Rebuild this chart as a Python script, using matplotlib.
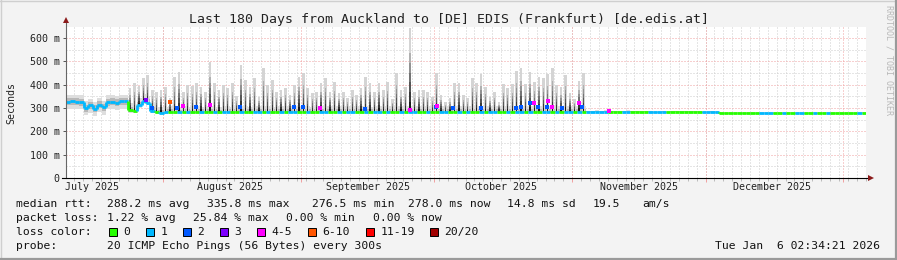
import matplotlib
matplotlib.use('Agg')
import matplotlib.pyplot as plt
import matplotlib.dates as mdates
from matplotlib.collections import LineCollection
from matplotlib.patches import Rectangle
from matplotlib.lines import Line2D
import numpy as np
import pandas as pd

W, H = 897, 260
MONO = 'DejaVu Sans Mono'

start = pd.Timestamp('2025-07-10 02:34:21')
end = pd.Timestamp('2026-01-06 02:34:21')

# daily median rtt (ms), day 0 = start
median_ms = [
    327, 328, 327, 326, 300, 312, 297, 314, 304, 326,
    327, 323, 328, 329, 290, 287, 312, 328, 322, 289,
    281, 280, 282, 283, 282, 281, 283, 282, 281, 283,
    282, 284, 283, 282, 281, 283, 284, 282, 283, 284,
    283, 282, 284, 283, 285, 283, 282, 284, 283, 285,
    284, 283, 285, 284, 283, 282, 284, 285, 283, 284,
    283, 285, 284, 283, 284, 285, 283, 284, 282, 284,
    285, 283, 284, 283, 285, 284, 283, 285, 284, 283,
    284, 285, 283, 284, 285, 283, 284, 283, 285, 284,
    283, 284, 285, 283, 284, 283, 285, 284, 283, 284,
    283, 285, 284, 283, 285, 284, 283, 285, 284, 283,
    284, 283, 285, 284, 283, 284, 285, 284, 284, 285,
    284, 285, 284, 284, 283, 284, 285, 284, 284, 283,
    284, 283, 282, 282, 283, 282, 283, 284, 283, 284,
    284, 283, 284, 282, 282, 283, 282, 278, 277, 277,
    277, 278, 277, 277, 278, 277, 277, 278, 277, 277,
    278, 277, 277, 278, 277, 278, 277, 277, 278, 277,
    277, 278, 277, 277, 278, 277, 278, 277, 277, 278,
]

# daily packet loss (pings lost out of 20)
loss_cnt = [
    1, 1, 1, 1, 1, 1, 1, 1, 1, 1,
    1, 1, 1, 1, 0, 0, 1, 1, 1, 1,
    0, 1, 1, 0, 0, 1, 0, 1, 0, 0,
    1, 0, 0, 1, 0, 1, 1, 0, 0, 1,
    0, 0, 1, 1, 0, 1, 0, 0, 1, 0,
    1, 1, 0, 0, 1, 0, 0, 1, 1, 0,
    0, 1, 0, 1, 1, 0, 0, 1, 0, 1,
    1, 0, 1, 0, 0, 1, 0, 1, 1, 0,
    0, 1, 0, 0, 1, 1, 0, 0, 1, 0,
    1, 0, 0, 1, 0, 1, 1, 0, 0, 1,
    0, 1, 1, 0, 1, 0, 0, 1, 1, 0,
    1, 0, 1, 1, 0, 1, 0, 1, 1, 1,
    1, 1, 0, 0, 0, 1, 1, 0, 0, 0,
    0, 1, 1, 1, 1, 0, 0, 0, 0, 0,
    0, 0, 0, 1, 1, 1, 1, 0, 0, 0,
    0, 0, 0, 0, 0, 0, 1, 1, 1, 0,
    0, 1, 0, 0, 1, 1, 0, 0, 1, 0,
    0, 1, 0, 0, 0, 0, 0, 0, 1, 0,
]

# slowest ping per day (ms), from day 14 to day 116
spike_first_day = 14
spike_max_ms = [
    384, 406, 395, 427, 441, 377, 370, 377, 391, 343,
    434, 456, 370, 399, 396, 406, 391, 370, 499, 406,
    377, 399, 384, 406, 350, 484, 420, 391, 427, 348,
    470, 399, 420, 370, 377, 384, 356, 399, 434, 449,
    384, 363, 370, 406, 427, 370, 413, 363, 370, 341,
    377, 356, 384, 434, 406, 370, 406, 377, 413, 340,
    449, 377, 391, 641, 370, 377, 377, 370, 348, 449,
    356, 327, 341, 406, 406, 356, 341, 427, 406, 444,
    391, 348, 370, 327, 401, 384, 401, 459, 473, 401,
    456, 413, 434, 427, 444, 473, 399, 388, 442, 363,
    340, 416, 449,
]

# background smoke spread around the median, per period
fog_start_day = [0, 14, 20, 117]
fog_end_day = [14, 20, 117, 180]
fog_below_ms = [32, 10, 6, 3]
fog_above_ms = [28, 30, 24, 5]

# short loss events: time (days from start), rtt (ms), lost pings
event_day = [17.9, 19.4, 23.4, 25.0, 26.4, 29.2, 32.3, 39.2, 51.3, 53.3,
             57.2, 67.3, 77.3, 83.2, 83.4, 87.0, 93.4, 101.2, 102.4, 104.4,
             105.3, 106.3, 108.2, 108.4, 109.4, 111.5, 115.4, 116.0, 122.2]
event_ms = [334, 300, 327, 299, 308, 306, 311, 306, 304, 305,
            300, 296, 290, 306, 310, 300, 302, 298, 305, 323,
            322, 306, 305, 332, 306, 300, 323, 306, 286]
event_loss = [3, 2, 8, 2, 4, 2, 5, 2, 2, 2,
              4, 2, 4, 2, 4, 2, 2, 2, 2, 2,
              4, 2, 2, 4, 4, 2, 4, 2, 4]

loss_levels = [0, 1, 2, 3, 5, 10, 19, 20]
loss_labels = ['0', '1', '2', '3', '4-5', '6-10', '11-19', '20/20']
loss_colors = ['#26ff00', '#00b8ff', '#0059ff', '#7e00ff',
               '#ff00ff', '#ff5500', '#ff0000', '#a10000']

y_ticks = [0, 100, 200, 300, 400, 500, 600]
y_tick_labels = ['0', '100 m', '200 m', '300 m', '400 m', '500 m', '600 m']


def loss_color(n):
    for lv, c in zip(loss_levels, loss_colors):
        if n <= lv:
            return c
    return loss_colors[-1]


def fx(x):
    return x / W


def fy(y):
    return 1 - y / H


fig = plt.figure(figsize=(W / 100, H / 100), dpi=100)
fig.patch.set_facecolor('#f3f3f3')

ax = fig.add_axes([fx(66), fy(178), 800 / W, 151 / H])
ax.set_facecolor('white')
t0 = mdates.date2num(start.to_pydatetime())
t1 = mdates.date2num(end.to_pydatetime())
ax.set_xlim(t0, t1)
ax.set_ylim(0, 151 / (140 / 600))
for s in ax.spines.values():
    s.set_visible(False)

# grid
minor_days = pd.date_range('2025-07-12', '2026-01-06', freq='2D')
month_starts = pd.date_range('2025-08-01', '2026-01-01', freq='MS')
minor_x = mdates.date2num(minor_days.to_pydatetime())
major_x = mdates.date2num(month_starts.to_pydatetime())
dot = (0, (1, 2))
for x in minor_x:
    ax.axvline(x, color='#cccccc', lw=0.72, ls=dot, zorder=0)
for v in range(50, 650, 100):
    ax.axhline(v, color='#cccccc', lw=0.72, ls=dot, zorder=0)
for x in major_x:
    ax.axvline(x, color='#f0a0a0', lw=0.72, ls=dot, zorder=0.5)
for v in y_ticks[1:]:
    ax.axhline(v, color='#f0a0a0', lw=0.72, ls=dot, zorder=0.5)

n = len(median_ms)
med = np.array(median_ms, dtype=float)
edges = t0 + np.arange(n + 1)

# background smoke
below = np.zeros(n)
above = np.zeros(n)
for s0, s1, b, a in zip(fog_start_day, fog_end_day, fog_below_ms, fog_above_ms):
    below[s0:s1] = b
    above[s0:s1] = a
lo = np.append(med - below, med[-1] - below[-1])
hi = np.append(med + above, med[-1] + above[-1])
mid_lo = np.append(med - below * 0.5, med[-1] - below[-1] * 0.5)
mid_hi = np.append(med + above * 0.5, med[-1] + above[-1] * 0.5)
ax.fill_between(edges, lo, hi, step='post', color='#dedede', lw=0, zorder=1)
ax.fill_between(edges, mid_lo, mid_hi, step='post', color='#b8b8b8', lw=0, zorder=1.1)

# spikes of slow pings
shades = ['#1a1a1a', '#383838', '#565656', '#747474', '#929292', '#b0b0b0']
for k, top in enumerate(spike_max_ms):
    d = spike_first_day + k
    x = t0 + d + 0.4
    base = median_ms[d]
    ax.bar(x, top - base, bottom=base, width=0.6, color='#d4d4d4', lw=0, zorder=1.5)
    seg = (top - base) * 0.7 / len(shades)
    for j, c in enumerate(shades):
        ax.bar(x, seg, bottom=base + j * seg, width=0.3, color=c, lw=0, zorder=1.6)

# median line coloured by loss
segs, cols = [], []
for i in range(n):
    c = loss_color(loss_cnt[i])
    segs.append([(edges[i], med[i]), (edges[i + 1], med[i])])
    cols.append(c)
    if i > 0 and med[i] != med[i - 1]:
        segs.append([(edges[i], med[i - 1]), (edges[i], med[i])])
        cols.append(c)
ax.add_collection(LineCollection(segs, colors=cols, linewidths=2.0,
                                 capstyle='butt', zorder=3))

for d, v, l in zip(event_day, event_ms, event_loss):
    ax.plot(t0 + d, v, marker='s', ms=2.4, mew=0, color=loss_color(l), zorder=4)

# axes, ticks
ax.set_yticks(y_ticks)
ax.set_yticklabels(y_tick_labels, family=MONO, fontsize=7.2, color='#222222')
ax.tick_params(axis='y', length=2.5, width=0.7, color='#555555', pad=2)
ax.set_xticks(major_x)
ax.set_xticklabels([])
ax.set_xticks(minor_x, minor=True)
ax.tick_params(axis='x', which='major', length=3, width=0.7, color='#f0a0a0')
ax.tick_params(axis='x', which='minor', length=2, width=0.7, color='#bbbbbb')

ax.plot([0, 0], [0, 1 + 5 / 151], transform=ax.transAxes, color='#666666',
        lw=0.8, clip_on=False, zorder=5)
ax.plot([-4 / 800, 1 + 2 / 800], [0, 0], transform=ax.transAxes, color='black',
        lw=0.8, clip_on=False, zorder=5)
ax.plot(0, 1 + 7 / 151, marker='^', ms=4.5, color='#8b1a1a', mew=0,
        transform=ax.transAxes, clip_on=False, zorder=6)
ax.plot(1 + 5 / 800, 0, marker='>', ms=4.5, color='#8b1a1a', mew=0,
        transform=ax.transAxes, clip_on=False, zorder=6)

# month labels in mid month
for m in pd.date_range('2025-07-01', '2025-12-01', freq='MS'):
    xm = mdates.date2num((m + pd.Timedelta(days=15)).to_pydatetime())
    ax.text(xm, -9 / 151, m.strftime('%B %Y'), transform=ax.get_xaxis_transform(),
            ha='center', va='center', family=MONO, fontsize=7.2, color='#222222')

ax.set_ylabel('Seconds', family=MONO, fontsize=7.2, color='#222222')
ax.yaxis.set_label_coords(fx(10) - fx(66), 0.5)

fig.text(0.5, fy(19), 'Last 180 Days from Auckland to [DE] EDIS (Frankfurt) [de.edis.at]',
         ha='center', va='center', family=MONO, fontsize=9.5, color='#222222')
fig.text(fx(889), fy(5), 'RRDTOOL / TOBI OETIKER', rotation=-90, ha='center', va='top',
         family=MONO, fontsize=6, color='#b8b8b8')

# legend block
fs = 8.2
rows = [
    (204, [(16, 'median rtt:'), (107, '288.2 ms avg'), (207, '335.8 ms max'),
           (312, '276.5 ms min'), (408, '278.0 ms now'), (507, '14.8 ms sd'),
           (593, '19.5'), (642, 'am/s')]),
    (218, [(16, 'packet loss:'), (107, '1.22 % avg'), (193, '25.84 % max'),
           (286, '0.00 % min'), (373, '0.00 % now')]),
    (232, [(16, 'loss color:')]),
    (246, [(16, 'probe:'), (107, '20 ICMP Echo Pings (56 Bytes) every 300s')]),
]
for y, items in rows:
    for x, s in items:
        fig.text(fx(x), fy(y), s, ha='left', va='center', family=MONO,
                 fontsize=fs, color='#111111')

box_x = [109, 146, 183, 220, 257, 308, 366, 430]
for bx, lab, c in zip(box_x, loss_labels, loss_colors):
    fig.patches.append(Rectangle((fx(bx), fy(236)), 8 / W, 8 / H, transform=fig.transFigure,
                                 facecolor=c, edgecolor='black', lw=0.7))
    fig.text(fx(bx + 14.5), fy(232), lab, ha='left', va='center', family=MONO,
             fontsize=fs, color='#111111')

fig.text(fx(880), fy(246), 'Tue Jan  6 02:34:21 2026', ha='right', va='center',
         family=MONO, fontsize=fs, color='#111111')

# frame
fig.lines.append(Line2D([0, 1], [fy(0.5), fy(0.5)], transform=fig.transFigure, color='#cfcfcf', lw=1))
fig.lines.append(Line2D([fx(0.5), fx(0.5)], [0, 1], transform=fig.transFigure, color='#cfcfcf', lw=1))
fig.lines.append(Line2D([0, 1], [fy(258.8), fy(258.8)], transform=fig.transFigure, color='#9a9a9a', lw=1.6))
fig.lines.append(Line2D([fx(895.8), fx(895.8)], [0, 1], transform=fig.transFigure, color='#9a9a9a', lw=1.6))

fig.savefig('out.png', dpi=100, facecolor=fig.get_facecolor())
